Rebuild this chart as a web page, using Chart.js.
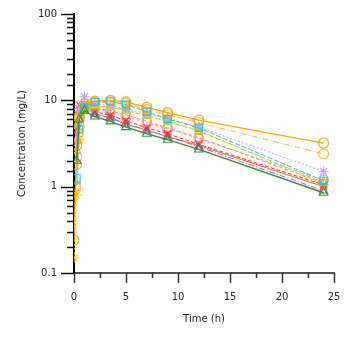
<!DOCTYPE html>
<html>
<head>
<meta charset="utf-8">
<script src="https://cdn.jsdelivr.net/npm/chart.js@4.4.1/dist/chart.umd.min.js"></script>
<style>
  html, body { margin: 0; padding: 0; background: #fff; }
  #wrap { width: 353px; height: 338px; }
</style>
</head>
<body>
<div id="wrap"><canvas id="pk"></canvas></div>
<script>
// sampling times (h)
const times = [0, 0.25, 0.5, 1, 2, 3.5, 5, 7, 9, 12, 24];

// concentrations per subject (mg/L), null = below 0.1 / not plotted
const subj1 = [0.24, 3.0, 6.5, 9.0, 9.8, 10.0, 9.6, 8.3, 7.2, 5.9, 3.2];
const subj2 = [null, 1.8, 5.0, 8.5, 9.4, 9.6, 9.2, 7.8, 6.8, 5.5, 2.4];
const subj3 = [null, 1.25, 4.6, 8.2, 9.6, 9.7, 8.9, 7.4, 6.1, 4.8, 1.17];
const subj4 = [null, 3.2, 8.0, 11.0, 9.2, 8.6, 8.0, 7.0, 6.2, 4.9, 1.5];
const subj5 = [null, 2.6, 6.8, 8.6, 8.6, 8.3, 7.6, 6.6, 5.7, 4.4, 1.12];
const subj6 = [null, 4.5, 8.8, 9.0, 7.4, 6.7, 5.8, 4.8, 4.1, 3.1, 1.05];
const subj7 = [null, 2.0, 6.0, 7.6, 6.5, 5.7, 4.9, 4.1, 3.5, 2.7, 0.85];
const subj8 = [0.15, 0.8, 3.5, 7.6, 8.6, 8.4, 7.8, 6.8, 5.8, 4.5, 1.05];
const subj9 = [null, 1.0, 4.2, 7.9, 8.2, 7.6, 6.8, 5.7, 4.8, 3.7, 1.1];
const subj10 = [null, 3.5, 7.5, 8.2, 7.0, 6.3, 5.4, 4.5, 3.8, 2.9, 0.9];
const subj11 = [null, 2.2, 6.2, 8.4, 8.0, 7.3, 6.5, 5.5, 4.7, 3.6, 1.2];
const subj12 = [null, 5.5, 8.0, 8.2, 7.0, 6.2, 5.3, 4.5, 3.8, 3.0, 1.0];

const yTickLabels = [0.1, 1, 10, 100];
const xTickLabels = [0, 5, 10, 15, 20, 25];

const FONT = 'DejaVu Sans';

// helper: build {x,y} points from the times array
function pts(vals) {
  return times.map((t, i) => ({ x: t, y: vals[i] }));
}

function series(vals, color, style, dash, width) {
  return {
    data: pts(vals),
    borderColor: color,
    backgroundColor: 'rgba(0,0,0,0)',
    pointBorderColor: color,
    pointBackgroundColor: 'rgba(0,0,0,0)',
    pointStyle: style,
    pointRadius: 5,
    pointBorderWidth: 1.1,
    borderWidth: width || 1,
    borderDash: dash || [],
    spanGaps: true,
    tension: 0
  };
}

const datasets = [
  series(subj7, '#3a8a3a', 'triangle', [], 1.4),
  series(subj3, '#22c0e0', 'rect', [5, 2]),
  series(subj1, '#ffa500', 'circle', [], 1.3),
  series(subj2, '#ffb347', 'circle', [6, 2, 1, 2]),
  series(subj4, '#c39bff', 'star', [2, 2]),
  series(subj5, '#99e033', 'triangle', [5, 2]),
  series(subj6, '#ff2a2a', 'crossRot', [4, 2]),
  series(subj8, '#ffc61a', 'star', [2, 2]),
  series(subj9, '#ff8c42', 'rect', [4, 2]),
  series(subj10, '#9966ff', 'triangle', [6, 2, 1, 2]),
  series(subj11, '#ff99cc', 'circle', [3, 2]),
  series(subj12, '#f06020', 'crossRot', [])
];

// draw axis tick marks outside the plot: long ones for labelled ticks, short ones otherwise
const tickMarks = {
  id: 'tickMarks',
  afterDraw(chart) {
    const ctx = chart.ctx;
    const xs = chart.scales.x, ys = chart.scales.y;
    const area = chart.chartArea;
    ctx.save();
    ctx.strokeStyle = '#111';
    ctx.lineWidth = 1.5;
    ys.ticks.forEach(t => {
      const l = Math.log10(t.value);
      const major = Math.abs(l - Math.round(l)) < 1e-9;
      const py = Math.round(ys.getPixelForValue(t.value)) + 0.5;
      ctx.beginPath();
      ctx.moveTo(area.left - (major ? 13 : 7), py);
      ctx.lineTo(area.left, py);
      ctx.stroke();
    });
    ctx.strokeStyle = '#333';
    xs.ticks.forEach(t => {
      const major = t.value % 5 === 0;
      const px = Math.round(xs.getPixelForValue(t.value)) + 0.5;
      ctx.beginPath();
      ctx.moveTo(px, area.bottom);
      ctx.lineTo(px, area.bottom + (major ? 10 : 5));
      ctx.stroke();
    });
    ctx.restore();
  }
};

new Chart(document.getElementById('pk'), {
  type: 'line',
  data: { datasets },
  plugins: [tickMarks],
  options: {
    responsive: true,
    maintainAspectRatio: false,
    animation: false,
    layout: { padding: { left: 16, right: 19, top: 14, bottom: 13 } },
    plugins: {
      legend: { display: false },
      tooltip: { enabled: false }
    },
    scales: {
      x: {
        type: 'linear',
        min: 0,
        max: 25,
        afterFit(scale) {
          scale.height = 52;
          scale.paddingLeft = 0;
          scale.paddingRight = 0;
        },
        border: { display: true, color: '#555', width: 2 },
        grid: { display: true, drawOnChartArea: false, drawTicks: false },
        ticks: {
          stepSize: 2.5,
          padding: 18,
          color: '#222',
          font: { family: FONT, size: 10 },
          maxRotation: 0,
          autoSkip: false,
          callback: v => xTickLabels.includes(v) ? String(v) : ''
        },
        title: {
          display: true,
          text: 'Time (h)',
          color: '#222',
          font: { family: FONT, size: 10 },
          padding: { top: 4, bottom: 0 }
        }
      },
      y: {
        type: 'logarithmic',
        min: 0.1,
        max: 100,
        afterFit(scale) {
          scale.width = 58;
          scale.paddingTop = 0;
          scale.paddingBottom = 0;
        },
        border: { display: true, color: '#000', width: 2 },
        grid: { display: true, drawOnChartArea: false, drawTicks: false },
        ticks: {
          padding: 17,
          color: '#222',
          autoSkip: false,
          font: { family: FONT, size: 10 },
          callback: v => yTickLabels.includes(Number(v.toPrecision(6))) ? String(v) : ''
        },
        title: {
          display: true,
          text: 'Concentration (mg/L)',
          color: '#222',
          font: { family: FONT, size: 10 },
          padding: { top: 0, bottom: 0 }
        }
      }
    }
  }
});
</script>
</body>
</html>
